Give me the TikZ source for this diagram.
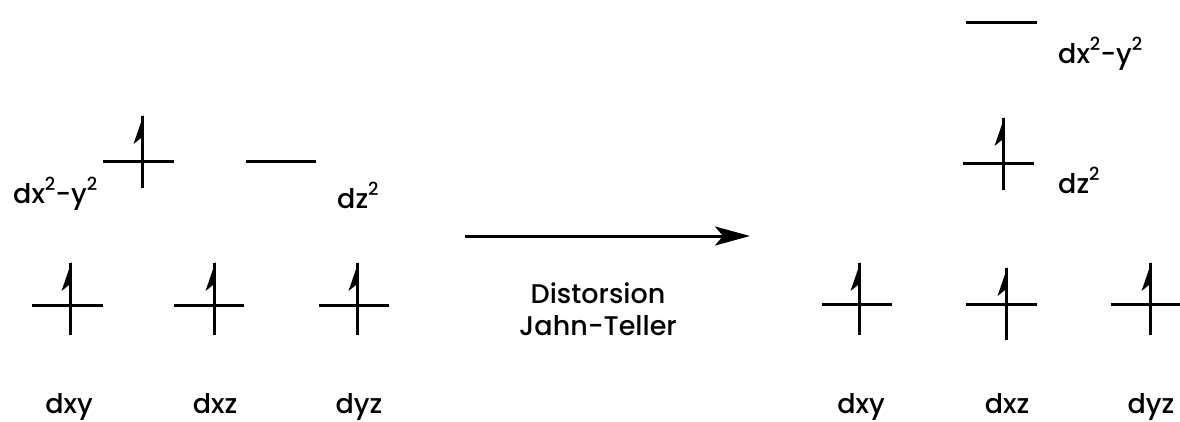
\documentclass[tikz,border=0pt]{standalone}
\usepackage{fontspec}
\setmainfont{Poppins Medium}
\usetikzlibrary{arrows.meta}
\newcommand{\sq}{\raisebox{13pt}{\fontsize{18}{20}\selectfont 2}}
\begin{document}
\begin{tikzpicture}[x=1pt,y=-1pt,
  level/.style={line width=3pt},
  lbl/.style={inner sep=0pt,anchor=base west,font=\fontsize{27}{30}\selectfont},
  lblc/.style={inner sep=0pt,anchor=base,font=\fontsize{27}{30}\selectfont},
  arr/.style={line width=3pt,-{Stealth[length=35pt,width=19pt,inset=8pt]}}]
\useasboundingbox (0,0) rectangle (1180,421);
\newcommand{\elup}[2]{%
  \draw[line width=3pt] (#1,#2) -- (#1,#2-72);
  \fill (#1+1.5,#2-73) -- (#1-8.5,#2-44) -- (#1-1,#2-50) -- cycle;}
% left side
\draw[level] (103,161) -- (174,161); \elup{142}{188}
\draw[level] (246,161) -- (316,161);
\draw[level] (32,305) -- (103,305); \elup{70}{335}
\draw[level] (174,305) -- (244,305); \elup{214}{335}
\draw[level] (319,305) -- (389,305); \elup{357}{335}
\node[lbl] (l1) at (13,203) {dx\sq-y\sq};
\node[lbl] (l2) at (337,208) {dz\sq};
\node[lblc] (l3) at (69,413) {dxy};
\node[lblc] (l4) at (215,413) {dxz};
\node[lblc] (l5) at (359,413) {dyz};
% arrow
\coordinate (a1) at (465,236);
\coordinate (a2) at (750,236);
\draw[arr] (a1) -- (a2);
\node[lblc] (t1) at (598,303) {Distorsion};
\node[lblc] (t2) at (598,335) {Jahn-Teller};
% right side
\draw[level] (966,22) -- (1037,22);
\draw[level] (963,163) -- (1034,163); \elup{1003}{190}
\draw[level] (822,304) -- (892,304); \elup{859}{335}
\draw[level] (966,304) -- (1037,304); \elup{1006}{340}
\draw[level] (1111,304) -- (1182,304); \elup{1150}{335}
\node[lbl] (r1) at (1058,63) {dx\sq-y\sq};
\node[lbl] (r2) at (1058,193) {dz\sq};
\node[lblc] (r3) at (861,413) {dxy};
\node[lblc] (r4) at (1007,413) {dxz};
\node[lblc] (r5) at (1151,413) {dyz};
\end{tikzpicture}
\end{document}
